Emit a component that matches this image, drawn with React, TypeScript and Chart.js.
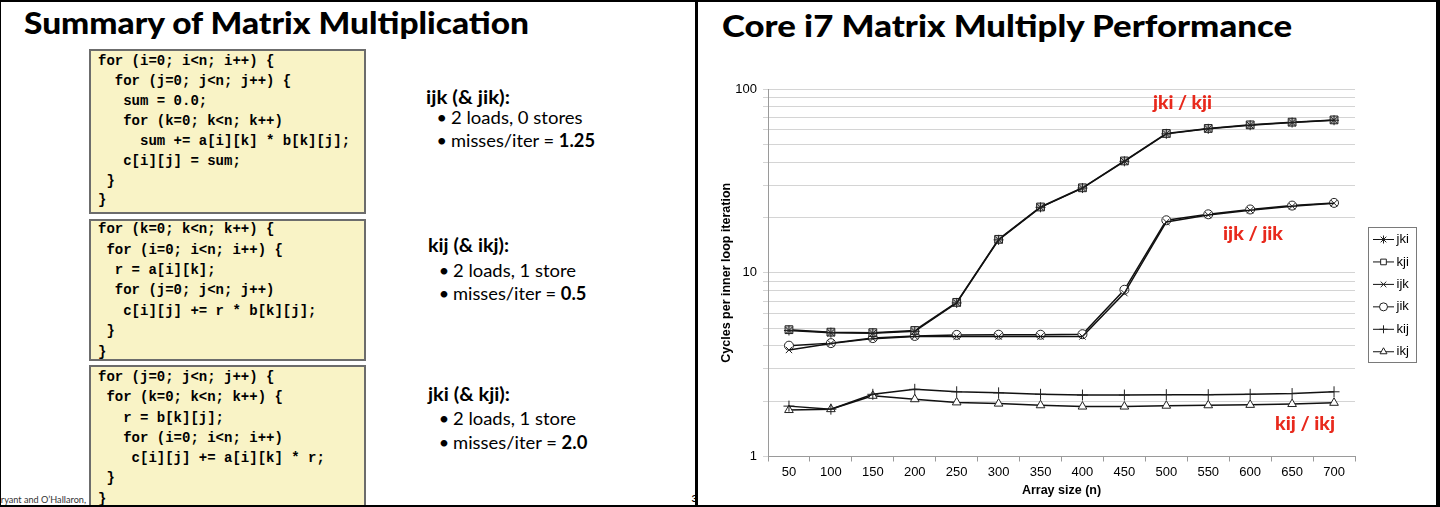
import React, { useEffect, useLayoutEffect, useRef } from 'react';
import { Chart, registerables } from 'chart.js';
import { drawPoint } from 'chart.js/helpers';

Chart.register(...registerables);

// ---------- data ----------
const ARRAY_SIZES = [50, 100, 150, 200, 250, 300, 350, 400, 450, 500, 550, 600, 650, 700];
const JKI = [4.85, 4.72, 4.68, 4.8, 6.85, 15.1, 22.7, 28.9, 40.4, 57.0, 60.7, 63.5, 65.7, 67.6];
const KJI = [4.9, 4.75, 4.72, 4.85, 6.9, 15.2, 22.8, 29.0, 40.6, 57.3, 61.0, 63.8, 66.0, 67.9];
const IJK = [3.8, 4.12, 4.38, 4.5, 4.5, 4.5, 4.5, 4.5, 7.75, 18.9, 20.6, 21.9, 23.0, 23.9];
const JIK = [4.01, 4.14, 4.41, 4.53, 4.59, 4.6, 4.6, 4.63, 8.08, 19.3, 20.8, 22.1, 23.2, 24.0];
const KIJ = [1.88, 1.81, 2.18, 2.32, 2.25, 2.22, 2.18, 2.16, 2.16, 2.17, 2.17, 2.18, 2.2, 2.25];
const IKJ = [1.79, 1.81, 2.14, 2.05, 1.97, 1.94, 1.9, 1.87, 1.87, 1.89, 1.9, 1.91, 1.93, 1.96];
const SERIES_NAMES = ['jki', 'kji', 'ijk', 'jik', 'kij', 'ikj'];
const Y_GRID = [1, 2, 3, 4, 5, 6, 7, 8, 9, 10, 20, 30, 40, 50, 60, 70, 80, 90, 100];
const Y_LABELS = [1, 10, 100];

const CODE_IJK = [
  'for (i=0; i<n; i++) {',
  '  for (j=0; j<n; j++) {',
  '   sum = 0.0;',
  '   for (k=0; k<n; k++)',
  '     sum += a[i][k] * b[k][j];',
  '   c[i][j] = sum;',
  ' }',
  '}',
];
const CODE_KIJ = [
  'for (k=0; k<n; k++) {',
  ' for (i=0; i<n; i++) {',
  '  r = a[i][k];',
  '  for (j=0; j<n; j++)',
  '   c[i][j] += r * b[k][j];',
  ' }',
  '}',
];
const CODE_JKI = [
  'for (j=0; j<n; j++) {',
  ' for (k=0; k<n; k++) {',
  '   r = b[k][j];',
  '   for (i=0; i<n; i++)',
  '    c[i][j] += a[i][k] * r;',
  ' }',
  '}',
];

// ---------- fonts ----------
const SANS = 'Lato, "Open Sans", sans-serif';
const MONO = '"Liberation Mono", "DejaVu Sans Mono", monospace';
const ARIAL = '"Liberation Sans", Arial, sans-serif';
const ASC_SANS = 0.887;
const ASC_MONO = 0.7665;
const RED = '#e8291c';

type TProps = {
  x: number;
  base: number;
  size: number;
  w?: number;
  weight?: number;
  family?: string;
  asc?: number;
  color?: string;
  children: React.ReactNode;
};

function T({ x, base, size, w, weight = 400, family = SANS, asc = ASC_SANS, color = '#000', children }: TProps) {
  const ref = useRef<HTMLDivElement>(null);
  useLayoutEffect(() => {
    const el = ref.current;
    if (!el || !w) return;
    el.style.transform = 'none';
    const nat = el.getBoundingClientRect().width;
    if (nat > 0) el.style.transform = `scaleX(${w / nat})`;
  });
  return (
    <div
      ref={ref}
      style={{
        position: 'absolute',
        left: x,
        top: base - asc * size,
        fontSize: size,
        lineHeight: `${size}px`,
        fontWeight: weight,
        fontFamily: family,
        color,
        whiteSpace: 'pre',
        transformOrigin: '0 0',
      }}
    >
      {children}
    </div>
  );
}

function CodeBox({ top, height, lines, base0, step }: { top: number; height: number; lines: string[]; base0: number; step: number }) {
  return (
    <>
      <div
        style={{
          position: 'absolute',
          left: 89,
          top,
          width: 277,
          height,
          boxSizing: 'border-box',
          border: '2px solid #6c6c6c',
          background: '#f9f3c6',
        }}
      />
      {lines.map((l, i) => (
        <T key={i} x={98} base={base0 + i * step} size={14} weight={700} family={MONO} asc={ASC_MONO}>
          {l}
        </T>
      ))}
    </>
  );
}

function Bullet({ x, tx, base, w, children }: { x: number; tx: number; base: number; w: number; children: React.ReactNode }) {
  return (
    <>
      <T x={x} base={base} size={18}>
        {'•'}
      </T>
      <T x={tx} base={base} size={18} w={w}>
        {children}
      </T>
    </>
  );
}

const legendPlugin = {
  id: 'boxLegend',
  afterDraw(chart: any, _args: any, opts: any) {
    const ctx = chart.ctx as CanvasRenderingContext2D;
    const { x, y, w, h, first, step } = opts;
    ctx.save();
    ctx.fillStyle = '#fff';
    ctx.fillRect(x, y, w, h);
    ctx.strokeStyle = '#7a7a7a';
    ctx.lineWidth = 1;
    ctx.strokeRect(x + 0.5, y + 0.5, w, h);
    chart.data.datasets.forEach((d: any, i: number) => {
      const cy = y + first + i * step;
      ctx.strokeStyle = '#111';
      ctx.lineWidth = 1;
      ctx.beginPath();
      ctx.moveTo(x + 5, cy);
      ctx.lineTo(x + 26, cy);
      ctx.stroke();
      ctx.fillStyle = '#fff';
      ctx.strokeStyle = '#222';
      ctx.lineWidth = 1;
      drawPoint(ctx, { pointStyle: d.pointStyle, radius: 4, borderWidth: 1, rotation: 0 } as any, x + 15.5, cy);
      ctx.fillStyle = '#000';
      ctx.font = `13px ${ARIAL}`;
      ctx.textBaseline = 'middle';
      ctx.textAlign = 'left';
      ctx.fillText(d.label, x + 28.5, cy);
    });
    ctx.restore();
  },
};

function PerfChart() {
  const ref = useRef<HTMLCanvasElement>(null);
  useEffect(() => {
    if (!ref.current) return;
    const mk = (label: string, data: number[], pointStyle: string, radius: number, bg: string) => ({
      label,
      data,
      pointStyle,
      pointRadius: radius,
      pointBackgroundColor: bg,
      pointBorderColor: '#222',
      pointBorderWidth: 1,
      borderColor: '#111',
      borderWidth: 1.5,
      tension: 0,
      fill: false,
    });
    const chart = new Chart(ref.current, {
      type: 'line',
      data: {
        labels: ARRAY_SIZES.map(String),
        datasets: [
          mk(SERIES_NAMES[0], JKI, 'star', 5, '#fff'),
          mk(SERIES_NAMES[1], KJI, 'rect', 5.5, '#bdbdbd'),
          mk(SERIES_NAMES[2], IJK, 'crossRot', 4.5, '#fff'),
          mk(SERIES_NAMES[3], JIK, 'circle', 4.5, '#fff'),
          mk(SERIES_NAMES[4], KIJ, 'cross', 5.5, '#fff'),
          mk(SERIES_NAMES[5], IKJ, 'triangle', 5, '#fff'),
        ] as any,
      },
      options: {
        animation: false,
        responsive: false,
        maintainAspectRatio: false,
        layout: { padding: { left: 0, top: 29, right: 81, bottom: 0 } },
        plugins: {
          legend: { display: false },
          tooltip: { enabled: false },
          boxLegend: { x: 668, y: 167, w: 48, h: 135, first: 12.5, step: 22.45 },
        } as any,
        scales: {
          x: {
            type: 'category',
            offset: true,
            grid: { offset: true, drawOnChartArea: false, drawTicks: true, tickLength: 5, color: '#9a9a9a' },
            border: { display: true, color: '#9a9a9a', width: 1 },
            ticks: { color: '#000', font: { family: ARIAL, size: 13 }, padding: 3, maxRotation: 0, autoSkip: false },
            title: {
              display: true,
              text: 'Array size (n)',
              color: '#000',
              font: { family: ARIAL, size: 12.5, weight: 'bold' },
              padding: { top: 0, bottom: 6.5 },
            },
            afterFit: (s: any) => {
              s.height = 48.5;
            },
          },
          y: {
            type: 'logarithmic',
            min: 1,
            max: 100,
            grid: { color: '#d4d4d4', tickLength: 5, drawTicks: true },
            border: { display: true, color: '#9a9a9a', width: 1 },
            ticks: {
              autoSkip: false,
              color: '#000',
              font: { family: ARIAL, size: 13 },
              padding: 6,
              callback: (v: any) => (Y_LABELS.includes(Number(v)) ? String(v) : ''),
            },
            afterBuildTicks: (s: any) => {
              s.ticks = Y_GRID.map((v) => ({ value: v }));
            },
            title: {
              display: true,
              text: 'Cycles per inner loop iteration',
              color: '#000',
              font: { family: ARIAL, size: 12.5, weight: 'bold' },
              padding: { top: 19.5, bottom: 0 },
            },
            afterFit: (s: any) => {
              s.width = 68;
            },
          },
        } as any,
      },
      plugins: [legendPlugin],
    });
    return () => chart.destroy();
  }, []);
  return (
    <canvas
      ref={ref}
      width={736}
      height={445}
      style={{ position: 'absolute', left: 700, top: 60, width: 736, height: 445 }}
    />
  );
}

export default function App() {
  return (
    <div
      style={{
        position: 'absolute',
        left: 0,
        top: 0,
        width: 1440,
        height: 507,
        overflow: 'hidden',
        background: '#fff',
      }}
    >
      {/* left slide */}
      <T x={24} base={34.5} size={31} w={505} weight={900}>
        Summary of Matrix Multiplication
      </T>
      <T x={-5} base={503} size={10} w={91} color="#333">
        Bryant and O’Hallaron,
      </T>
      <T x={691.5} base={501.5} size={10} weight={700}>
        3
      </T>

      <CodeBox top={49} height={165} lines={CODE_IJK} base0={65.2} step={19.86} />
      <CodeBox top={219} height={142} lines={CODE_KIJ} base0={233} step={20.4} />
      <CodeBox top={365} height={150} lines={CODE_JKI} base0={380.8} step={20.27} />

      <T x={426} base={104} size={19} w={84} weight={700}>
        ijk (&amp; jik):
      </T>
      <Bullet x={436.6} tx={451} base={123.5} w={131.6}>
        2 loads, 0 stores
      </Bullet>
      <Bullet x={436.6} tx={451} base={146.5} w={144}>
        misses/iter = <b>1.25</b>
      </Bullet>

      <T x={428.4} base={251.5} size={19} w={81} weight={700}>
        kij (&amp; ikj):
      </T>
      <Bullet x={438.7} tx={453} base={276.5} w={123}>
        2 loads, 1 store
      </Bullet>
      <Bullet x={438.7} tx={453} base={300} w={133.4}>
        misses/iter = <b>0.5</b>
      </Bullet>

      <T x={427.5} base={400.5} size={19} w={82} weight={700}>
        jki (&amp; kji):
      </T>
      <Bullet x={438.7} tx={453} base={425.3} w={123}>
        2 loads, 1 store
      </Bullet>
      <Bullet x={438.7} tx={453} base={448.8} w={134.3}>
        misses/iter = <b>2.0</b>
      </Bullet>

      {/* right slide */}
      <T x={722} base={37.5} size={31} w={570} weight={900}>
        Core i7 Matrix Multiply Performance
      </T>
      <PerfChart />
      <T x={1152.7} base={108.5} size={19} w={59} weight={900} color={RED}>
        jki / kji
      </T>
      <T x={1223.3} base={240} size={19} w={60} weight={900} color={RED}>
        ijk / jik
      </T>
      <T x={1274.5} base={429.5} size={19} w={60} weight={900} color={RED}>
        kij / ikj
      </T>

      {/* slide borders */}
      <div style={{ position: 'absolute', left: 0, top: 0, width: 1440, height: 2, background: '#000' }} />
      <div style={{ position: 'absolute', left: 0, top: 505, width: 1440, height: 2, background: '#000' }} />
      <div style={{ position: 'absolute', left: 0, top: 0, width: 1, height: 507, background: '#000' }} />
      <div style={{ position: 'absolute', left: 694.5, top: 0, width: 3, height: 507, background: '#000' }} />
      <div style={{ position: 'absolute', left: 1436, top: 0, width: 4, height: 507, background: '#000' }} />
    </div>
  );
}
